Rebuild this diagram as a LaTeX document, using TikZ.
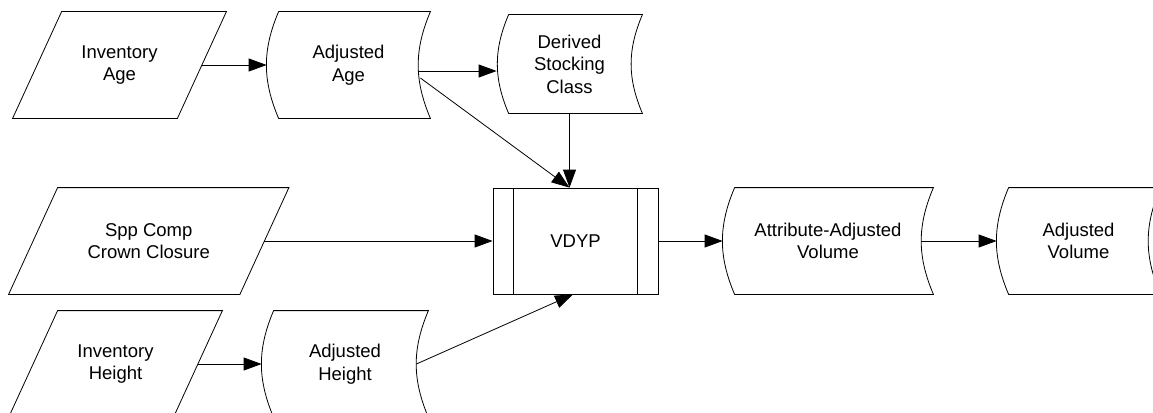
\documentclass[tikz,border=0pt]{standalone}
\usepackage{fontspec}
\setmainfont{Liberation Sans}
\usetikzlibrary{arrows.meta}

\begin{document}
\begin{tikzpicture}[x=1pt, y=-1pt, line width=0.8pt,
		every node/.style={font=\fontsize{18.5}{22.5}\selectfont, align=center, inner sep=0},
		inbox/.style={minimum width=#1, minimum height=106},
		databox/.style={minimum width=#1, minimum height=106},
		arr/.style={-{Triangle[length=18pt, width=13pt]}}]

			\useasboundingbox (0,0) rectangle (1153,412);

			\node (iage) [inbox=164] at (119.5,65) {Inventory\\Age};
			\node (aage) [databox=163] at (348.5,65) {Adjusted\\Age};
			\node (dsc) [databox=145, minimum height=98] at (569.5,64) {Derived\\Stocking\\Class};
			\node (sppc) [inbox=230.5] at (148.75,241) {Spp Comp\\Crown Closure};
			\node (vdyp) [draw, minimum width=165, minimum height=106] at (575.5,241) {VDYP};
			\node (avol) [databox=210] at (828,241) {Attribute-Adjusted\\Volume};
			\node (advol) [databox=163] at (1078.5,241) {Adjusted\\Volume};
			\node (iht) [inbox=164] at (115.5,364) {Inventory\\Height};
			\node (aht) [databox=166] at (345,364) {Adjusted\\Height};

			\foreach \n in {iage,sppc,iht}
				\draw ([xshift=24.5pt]\n.north west) -- ([xshift=24.5pt]\n.north east)
					-- ([xshift=-24.5pt]\n.south east) -- ([xshift=-24.5pt]\n.south west) -- cycle;
			\foreach \n in {aage,dsc,avol,advol,aht}
				\draw ([xshift=12pt]\n.north west) -- (\n.north east) to[bend right=23] (\n.south east)
					-- ([xshift=12pt]\n.south west) to[bend left=23] ([xshift=12pt]\n.north west);
			\draw ([xshift=21pt]vdyp.north west) -- ([xshift=21pt]vdyp.south west);
			\draw ([xshift=-21pt]vdyp.north east) -- ([xshift=-21pt]vdyp.south east);

			\draw[arr] (iage) -- (aage);
			\draw[arr] ([xshift=-12pt, yshift=-6pt]aage.east) -- ([yshift=-7pt]dsc.west);
			\draw[arr] ([xshift=-10pt, yshift=-13pt]aage.east) -- (dsc.south |- vdyp.north);
			\draw[arr] (dsc) -- (dsc.south |- vdyp.north);
			\draw[arr] (sppc) -- (vdyp);
			\draw[arr] (vdyp) -- (avol);
			\draw[arr] ([xshift=-12pt]avol.east) -- (advol.west);
			\draw[arr] (iht) -- (aht);
			\draw[arr] ([xshift=-12pt]aht.east) -- ([xshift=-2.5pt]vdyp.south);

		\end{tikzpicture}
\end{document}
